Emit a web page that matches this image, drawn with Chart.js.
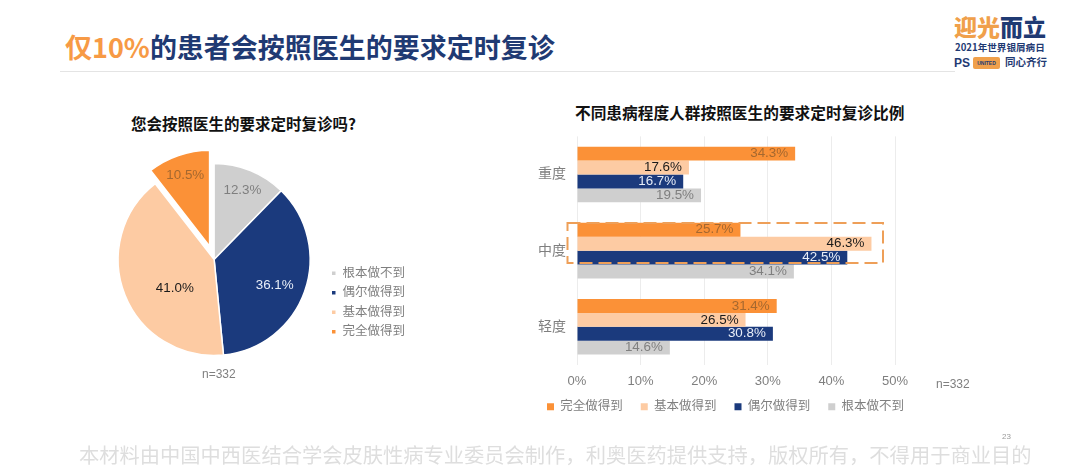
<!DOCTYPE html>
<html lang="zh">
<head>
<meta charset="utf-8">
<script src="https://cdn.jsdelivr.net/npm/chart.js@4"></script>
<style>
html,body{margin:0;padding:0;background:#fff;width:1080px;height:473px;overflow:hidden}
body{position:relative;font-family:"Liberation Sans","Noto Sans CJK SC",sans-serif}
.t{position:absolute;white-space:nowrap;line-height:1}
canvas{position:absolute}
</style>
</head>
<body>
<div class="t" style="left:65px;top:33px;font-size:27px;font-weight:700;color:#1f3a73;font-family:'Noto Sans CJK SC',sans-serif"><span style="color:#f79a45">仅10%</span>的患者会按照医生的要求定时复诊</div>
<div style="position:absolute;left:60px;top:71px;width:895px;height:1px;background:#e4e4e4"></div>

<div class="t" style="left:954px;top:15px;font-size:23px;font-weight:900;color:#1f3a73;font-family:'Noto Sans CJK SC'"><span style="color:#f0a04b">迎光</span>而立</div>
<div class="t" style="left:955px;top:43px;font-size:9.6px;font-weight:700;color:#1f3a73;font-family:'Noto Sans CJK SC'">2021年世界银屑病日</div>
<div class="t" style="left:954px;top:57px;font-size:12px;font-weight:700;color:#1f3a73">PS</div>
<div class="t" style="left:973px;top:57px;width:27px;height:12px;background:#f0a04b;border-radius:2px;font-size:5px;line-height:12px;color:#1f3a73;text-align:center;font-weight:700">UNITED</div>
<div class="t" style="left:1005px;top:57px;font-size:10.5px;font-weight:700;color:#1f3a73;font-family:'Noto Sans CJK SC'">同心齐行</div>

<div class="t" style="left:131px;top:116px;font-size:15.5px;font-weight:700;color:#111;font-family:'Noto Sans CJK SC'">您会按照医生的要求定时复诊吗?</div>
<div class="t" style="left:575px;top:105px;font-size:15.7px;font-weight:700;color:#111;font-family:'Noto Sans CJK SC'">不同患病程度人群按照医生的要求定时复诊比例</div>

<canvas id="pie" width="311" height="225" style="left:104px;top:147px"></canvas>
<canvas id="bar" width="460" height="320" style="left:500px;top:125px"></canvas>
<svg width="1080" height="473" style="position:absolute;left:0;top:0;pointer-events:none">
<rect x="567.5" y="223" width="315.5" height="40" fill="none" stroke="#ee9f58" stroke-width="2" stroke-dasharray="13 6"/>
</svg>

<div class="t" style="left:202px;top:368px;font-size:12px;color:#7f7f7f">n=332</div>
<div class="t" style="left:936px;top:378px;font-size:12px;color:#7f7f7f">n=332</div>
<div class="t" style="left:79px;top:444px;font-size:20.28px;color:#dedede;font-family:'Noto Sans CJK SC'">本材料由中国中西医结合学会皮肤性病专业委员会制作&#xFF0C;利奥医药提供支持&#xFF0C;版权所有&#xFF0C;不得用于商业目的</div>
<div class="t" style="left:1002px;top:433px;font-size:8px;color:#9a9a9a">23</div>

<script>
const responses = ['完全做得到', '基本做得到', '偶尔做得到', '根本做不到'];
const severities = ['重度', '中度', '轻度'];
const allDone = [34.3, 25.7, 31.4];
const mostlyDone = [17.6, 46.3, 26.5];
const sometimesDone = [16.7, 42.5, 30.8];
const neverDone = [19.5, 34.1, 14.6];
const xTicks = [0, 10, 20, 30, 40, 50];
const pieLabels = ['根本做不到', '偶尔做得到', '基本做得到', '完全做得到'];
const pieValues = [12.3, 36.1, 41.0, 10.5];

const ORANGE = '#fb9137', PEACH = '#fdcba3', NAVY = '#1b3a7d', GREY = '#cfcfcf';
const TXT = '#7f7f7f';
const FONT = '"Liberation Sans","Noto Sans CJK SC",sans-serif';
Chart.defaults.font.family = FONT;
Chart.defaults.color = TXT;
Chart.defaults.animation = false;

const pieLabelColors = ['#7f7f7f', '#e8eef8', '#1a1a1a', '#a5682f'];
const pieLabelRadius = [75, 66, 49, 89];
const pieLabelTurn = [0, 4, -15, 0];
const EXPLODE = 14;

const pieLabelsPlugin = {
  id: 'pieLabels',
  afterLayout(chart) {
    const lg = chart.legend;
    lg.bottom -= 27; lg.top -= 27;
  },
  beforeDatasetsDraw(chart) {
    const a = chart.getDatasetMeta(0).data[3];
    const area = chart.chartArea;
    const cx = (area.left + area.right) / 2, cy = (area.top + area.bottom) / 2;
    const mid = (a.startAngle + a.endAngle) / 2;
    a.x = cx + Math.cos(mid) * EXPLODE;
    a.y = cy + Math.sin(mid) * EXPLODE;
  },
  afterDatasetsDraw(chart) {
    const ctx = chart.ctx;
    const arcs = chart.getDatasetMeta(0).data;
    const area = chart.chartArea;
    const cx = (area.left + area.right) / 2, cy = (area.top + area.bottom) / 2;
    ctx.save();
    ctx.font = '13.4px ' + FONT;
    ctx.textAlign = 'center';
    ctx.textBaseline = 'middle';
    arcs.forEach((a, i) => {
      const ang = (a.startAngle + a.endAngle) / 2 + pieLabelTurn[i] * Math.PI / 180;
      ctx.fillStyle = pieLabelColors[i];
      ctx.fillText(pieValues[i].toFixed(1) + '%', cx + Math.cos(ang) * pieLabelRadius[i], cy + Math.sin(ang) * pieLabelRadius[i]);
    });
    ctx.restore();
  }
};

new Chart(document.getElementById('pie'), {
  type: 'pie',
  data: {
    labels: pieLabels,
    datasets: [{
      data: pieValues,
      backgroundColor: [GREY, NAVY, PEACH, ORANGE],
      borderColor: '#fff',
      borderWidth: 1.5
    }]
  },
  options: {
    responsive: false,
    radius: 96,
    layout: { padding: 0 },
    plugins: {
      tooltip: { enabled: false },
      legend: {
        position: 'right',
        align: 'end',
        labels: { boxWidth: 5, boxHeight: 5, padding: 7, color: TXT, font: { size: 12.5 } }
      }
    }
  },
  plugins: [pieLabelsPlugin]
});

const barLabelColors = ['#a5682f', '#1a1a1a', '#e8eef8', '#7f7f7f'];
const barLabelsPlugin = {
  id: 'barLabels',
  afterLayout(chart) {
    const lg = chart.legend;
    lg.left += 28; lg.right += 28;
    lg.top -= 16; lg.bottom -= 16;
  },
  afterDatasetsDraw(chart) {
    const ctx = chart.ctx;
    ctx.save();
    ctx.font = '13.4px ' + FONT;
    ctx.textAlign = 'right';
    ctx.textBaseline = 'middle';
    chart.data.datasets.forEach((ds, d) => {
      chart.getDatasetMeta(d).data.forEach((b, i) => {
        ctx.fillStyle = barLabelColors[d];
        ctx.fillText(ds.data[i].toFixed(1) + '%', b.x - 7, b.y);
      });
    });
    ctx.restore();
  }
};

const seriesValues = [allDone, mostlyDone, sometimesDone, neverDone];
const seriesColors = [ORANGE, PEACH, NAVY, GREY];

new Chart(document.getElementById('bar'), {
  type: 'bar',
  data: {
    labels: severities,
    datasets: responses.map((r, i) => ({
      label: r,
      data: seriesValues[i],
      backgroundColor: seriesColors[i],
      barPercentage: 1,
      categoryPercentage: 0.73
    }))
  },
  options: {
    responsive: false,
    indexAxis: 'y',
    layout: { padding: { top: 5, right: 65, left: 0, bottom: 6 } },
    scales: {
      x: {
        min: 0, max: 50,
        afterBuildTicks(s) { s.ticks = xTicks.map(v => ({ value: v })); },
        grid: { color: '#ececec', drawTicks: false },
        border: { display: false },
        ticks: { callback: v => v + '%', color: TXT, font: { size: 13 }, padding: 9, maxRotation: 0 }
      },
      y: {
        afterFit(s) { s.width = 77; },
        grid: { display: false },
        border: { display: false },
        ticks: { color: TXT, font: { size: 14 }, padding: 3 }
      }
    },
    plugins: {
      tooltip: { enabled: false },
      legend: {
        position: 'bottom',
        labels: { boxWidth: 7, boxHeight: 7, padding: 18, color: TXT, font: { size: 12.5 } }
      }
    }
  },
  plugins: [barLabelsPlugin]
});
</script>
</body>
</html>
